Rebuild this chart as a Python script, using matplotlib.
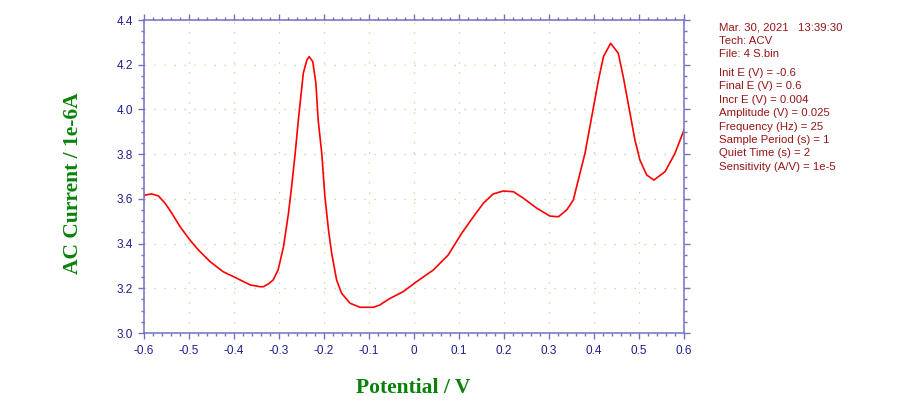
import matplotlib
matplotlib.use("Agg")
import matplotlib.pyplot as plt
from matplotlib.ticker import MultipleLocator, FormatStrFormatter

# Potential (V) and AC current (1e-6 A)
potential = [-0.600, -0.598, -0.583, -0.568, -0.553, -0.538, -0.520, -0.498, -0.479,
             -0.453, -0.424, -0.394, -0.364, -0.342, -0.335, -0.324, -0.313, -0.302,
             -0.290, -0.279, -0.272, -0.264, -0.257, -0.246, -0.238, -0.233, -0.225,
             -0.218, -0.213, -0.205, -0.198, -0.190, -0.183, -0.172, -0.161, -0.142,
             -0.120, -0.090, -0.076, -0.065, -0.053, -0.024, 0.006, 0.043, 0.076,
             0.106, 0.132, 0.154, 0.176, 0.198, 0.221, 0.243, 0.273, 0.302, 0.321,
             0.339, 0.347, 0.354, 0.380, 0.395, 0.410, 0.421, 0.437, 0.454, 0.465,
             0.476, 0.491, 0.502, 0.517, 0.533, 0.558, 0.580, 0.600]
current = [3.612, 3.617, 3.622, 3.613, 3.580, 3.535, 3.476, 3.416, 3.371,
           3.319, 3.274, 3.245, 3.215, 3.207, 3.207, 3.219, 3.237, 3.282,
           3.386, 3.535, 3.654, 3.804, 3.953, 4.162, 4.221, 4.236, 4.214,
           4.117, 3.953, 3.804, 3.610, 3.461, 3.357, 3.237, 3.178, 3.133,
           3.115, 3.115, 3.125, 3.140, 3.155, 3.185, 3.230, 3.282, 3.349,
           3.446, 3.520, 3.580, 3.622, 3.635, 3.632, 3.603, 3.558, 3.523, 3.520,
           3.550, 3.573, 3.595, 3.804, 3.968, 4.132, 4.236, 4.296, 4.251, 4.146,
           4.027, 3.863, 3.774, 3.707, 3.684, 3.722, 3.804, 3.908]

info_top = ["Mar. 30, 2021   13:39:30", "Tech: ACV", "File: 4 S.bin"]
info_params = ["Init E (V) = -0.6", "Final E (V) = 0.6", "Incr E (V) = 0.004",
               "Amplitude (V) = 0.025", "Frequency (Hz) = 25", "Sample Period (s) = 1",
               "Quiet Time (s) = 2", "Sensitivity (A/V) = 1e-5"]

axis_col = "#7272c4"
tick_col = "#1e1e8c"
label_col = "#0a820a"
info_col = "#961414"

fig = plt.figure(figsize=(9, 4.16), dpi=100)
ax = fig.add_axes([144 / 900, 83 / 416, 540 / 900, 313 / 416])

ax.plot(potential, current, color="#ff0000", lw=1.2)

ax.set_xlim(-0.6, 0.6)
ax.set_ylim(3.0, 4.4)
ax.xaxis.set_major_locator(MultipleLocator(0.1))
ax.xaxis.set_minor_locator(MultipleLocator(0.02))
ax.yaxis.set_major_locator(MultipleLocator(0.2))
ax.yaxis.set_minor_locator(MultipleLocator(0.05))
ax.xaxis.set_major_formatter(lambda v, p: "0" if abs(v) < 1e-9 else f"{v:.1f}")
ax.yaxis.set_major_formatter(FormatStrFormatter("%.1f"))

ax.grid(True, which="major", color="#c9c99a", linestyle=(0, (1, 7)), lw=0.9)

for s in ax.spines.values():
    s.set_color(axis_col)
    s.set_linewidth(1.1)

ax.tick_params(which="both", direction="out", color=axis_col, top=True, right=True,
               labeltop=False, labelright=False)
ax.tick_params(which="major", length=4.5, width=1.0)
ax.tick_params(which="minor", length=2.5, width=1.0)
ax.tick_params(axis="x", labelsize=8.5, labelcolor=tick_col, pad=4.5)
ax.tick_params(axis="y", labelsize=8.5, labelcolor=tick_col, pad=3.5)
for lab in ax.get_xticklabels() + ax.get_yticklabels():
    lab.set_family("Liberation Sans")

ax.set_xlabel("Potential / V", family="Liberation Serif", fontweight="bold",
              fontsize=15.5, color=label_col)
ax.set_ylabel("AC Current / 1e-6A", family="Liberation Serif", fontweight="bold",
              fontsize=15.5, color=label_col)
ax.xaxis.set_label_coords(0.498, -0.145)
ax.yaxis.set_label_coords(-0.113, 0.48)

# instrument info block on the right
y = 27
for line in info_top:
    fig.text(719 / 900, 1 - y / 416, line, family="Liberation Sans", fontsize=8.2,
             color=info_col, va="center", ha="left")
    y += 13.5
y += 5.5
for line in info_params:
    fig.text(719 / 900, 1 - y / 416, line, family="Liberation Sans", fontsize=8.2,
             color=info_col, va="center", ha="left")
    y += 13.4

fig.savefig("out.png", dpi=100)
